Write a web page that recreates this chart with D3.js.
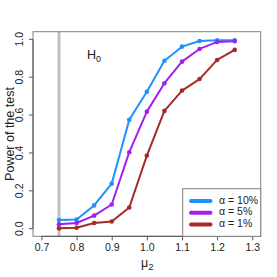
<!DOCTYPE html>
<html><head><meta charset="utf-8">
<script src="https://cdn.jsdelivr.net/npm/d3@7"></script>
<style>body{margin:0;background:#fff;} svg{display:block;font-family:"Liberation Sans",Arial,Helvetica,sans-serif;}</style>
</head><body>
<svg id="c" width="277" height="277"></svg>
<script>
const mu2 = [0.75, 0.80, 0.85, 0.90, 0.95, 1.00, 1.05, 1.10, 1.15, 1.20, 1.25];
const power10 = [0.046, 0.049, 0.123, 0.238, 0.575, 0.723, 0.887, 0.961, 0.991, 0.995, 0.995];
const power5  = [0.023, 0.030, 0.069, 0.128, 0.404, 0.618, 0.768, 0.882, 0.949, 0.986, 0.990];
const power1  = [0.002, 0.005, 0.030, 0.038, 0.112, 0.386, 0.622, 0.729, 0.790, 0.891, 0.944];
const seriesLabels = ["α = 10%", "α = 5%", "α = 1%"];
const seriesColors = ["#1E90FF", "#A020F0", "#A52A2A"];
const xTicks = [0.7, 0.8, 0.9, 1.0, 1.1, 1.2, 1.3];
const yTicks = [0.0, 0.2, 0.4, 0.6, 0.8, 1.0];
const h0Line = 0.75;

const svg = d3.select("#c");
const L = 33, R = 260.7, T = 31.7, B = 236.3;
const x = d3.scaleLinear().domain([0.676, 1.324]).range([L, R]);
const y = d3.scaleLinear().domain([-0.04, 1.04]).range([B, T]);

// H0 vertical line
svg.append("line").attr("x1", x(h0Line)).attr("x2", x(h0Line)).attr("y1", T).attr("y2", B)
  .attr("stroke", "#c0c0c0").attr("stroke-width", 3);

// box
svg.append("rect").attr("x", L).attr("y", T).attr("width", R - L).attr("height", B - T)
  .attr("fill", "none").attr("stroke", "#808080").attr("stroke-width", 1);

// axes
const xAxis = svg.append("g").attr("transform", `translate(0,${B})`)
  .call(d3.axisBottom(x).tickValues(xTicks).tickFormat(d3.format(".1f")).tickSizeInner(4).tickSizeOuter(0).tickPadding(3));
const yAxis = svg.append("g").attr("transform", `translate(${L},0)`)
  .call(d3.axisLeft(y).tickValues(yTicks).tickFormat(d3.format(".1f")).tickSizeInner(4).tickSizeOuter(0).tickPadding(3));
xAxis.select(".domain").remove();
yAxis.select(".domain").remove();
svg.append("line").attr("x1", x(xTicks[0])).attr("x2", x(xTicks[xTicks.length - 1]))
  .attr("y1", B).attr("y2", B).attr("stroke", "#555");
svg.append("line").attr("y1", y(yTicks[0])).attr("y2", y(yTicks[yTicks.length - 1]))
  .attr("x1", L).attr("x2", L).attr("stroke", "#555");
[xAxis, yAxis].forEach(g => {
  g.selectAll(".tick line").attr("stroke", "#555");
  g.selectAll(".tick text").attr("fill", "#222").style("font-size", "10.5px")
    .style("font-family", '"Liberation Sans",Arial,sans-serif');
});
yAxis.selectAll(".tick text")
  .attr("text-anchor", "middle")
  .attr("x", 0).attr("dy", 0)
  .attr("transform", d => `translate(-12.3,${y(d)}) rotate(-90)`)
  .attr("y", 0)
  .attr("dominant-baseline", "middle");
yAxis.selectAll(".tick").attr("transform", null);
yAxis.selectAll(".tick line").attr("y1", d => y(d)).attr("y2", d => y(d));

// series
const series = [power10, power5, power1];
const line = d3.line().x((d, i) => x(mu2[i])).y(d => y(d));
series.forEach((vals, k) => {
  svg.append("path").datum(vals).attr("d", line).attr("fill", "none")
    .attr("stroke", seriesColors[k]).attr("stroke-width", 2).attr("stroke-linejoin", "round");
  svg.selectAll(null).data(vals).enter().append("circle")
    .attr("cx", (d, i) => x(mu2[i])).attr("cy", d => y(d)).attr("r", 2.3)
    .attr("fill", seriesColors[k]);
});

// H0 label
const h0 = svg.append("text").attr("x", 87).attr("y", 58.5).attr("fill", "#222").style("font-size", "12.5px");
h0.append("tspan").text("H");
h0.append("tspan").attr("dy", 3).style("font-size", "9px").text("0");

// axis titles
svg.append("text").attr("transform", `translate(14,${(T + B) / 2}) rotate(-90)`)
  .attr("text-anchor", "middle").attr("fill", "#222").style("font-size", "12.5px").text("Power of the test");
const xt = svg.append("text").attr("x", 141).attr("y", 267).attr("fill", "#222").style("font-size", "12.5px");
xt.append("tspan").text("μ");
xt.append("tspan").attr("dy", 3).style("font-size", "9.5px").text("2");

// legend
const lx = 182.7, ly = 188.7;
svg.append("rect").attr("x", lx).attr("y", ly).attr("width", R - lx).attr("height", B - ly)
  .attr("fill", "#fff").attr("stroke", "#808080").attr("stroke-width", 1);
seriesLabels.forEach((lab, k) => {
  const yy = 201 + k * 11.7;
  svg.append("line").attr("x1", 191).attr("x2", 210.5).attr("y1", yy).attr("y2", yy)
    .attr("stroke", seriesColors[k]).attr("stroke-width", 4).attr("stroke-linecap", "round");
  svg.append("text").attr("x", 219).attr("y", yy).attr("dominant-baseline", "middle")
    .attr("fill", "#222").style("font-size", "10.5px").text(lab);
});
</script>
</body></html>
